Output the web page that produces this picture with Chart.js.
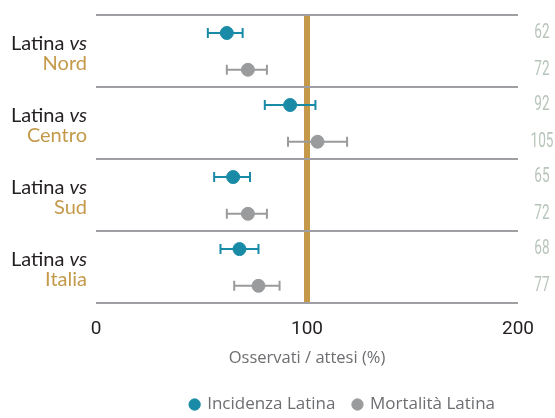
<!DOCTYPE html>
<html>
<head>
<meta charset="utf-8">
<script src="https://cdn.jsdelivr.net/npm/chart.js@4.4.0/dist/chart.umd.min.js"></script>
<style>
  html, body { margin: 0; padding: 0; background: #fff; }
  #wrap { width: 555px; height: 418px; }
</style>
</head>
<body>
<div id="wrap"><canvas id="forestChart" width="555" height="418"></canvas></div>
<script>
// dati
const groups = ['Nord', 'Centro', 'Sud', 'Italia'];
const incidenza = [62, 92, 65, 68];
const incLow = [53, 80, 56, 59];
const incHigh = [69.5, 104, 73, 77];
const mortalita = [72, 105, 72, 77];
const morLow = [62, 91, 62, 65.5];
const morHigh = [81, 119, 81, 87];
const xTicks = [0, 100, 200];

const TEAL = '#1a8ba6';
const GREY = '#9a9b9c';
const GOLD = '#c4994a';
const DIGITS = 'Roboto, sans-serif';
const SANS = 'Lato, "Open Sans", sans-serif';
const OPEN = '"Open Sans", sans-serif';

// posizione verticale delle righe dentro ogni gruppo
const rowInc = 0.25, rowMor = 0.76;

// barre di errore
const errorBars = {
    id: 'errorBars',
    beforeDatasetsDraw(chart) {
        const ctx = chart.ctx;
        const xs = chart.scales.x, ys = chart.scales.y;
        const sets = [[incLow, incHigh, rowInc, TEAL], [morLow, morHigh, rowMor, GREY]];
        ctx.save();
        ctx.lineWidth = 2;
        sets.forEach(([lo, hi, row, col]) => {
            ctx.strokeStyle = col;
            groups.forEach((g, i) => {
                const y = ys.getPixelForValue(i + row);
                const x1 = xs.getPixelForValue(lo[i]);
                const x2 = xs.getPixelForValue(hi[i]);
                ctx.beginPath();
                ctx.moveTo(x1, y); ctx.lineTo(x2, y);
                ctx.moveTo(x1, y - 5); ctx.lineTo(x1, y + 5);
                ctx.moveTo(x2, y - 5); ctx.lineTo(x2, y + 5);
                ctx.stroke();
            });
        });
        ctx.restore();
    }
};

// etichette a sinistra e valori a destra
const sideLabels = {
    id: 'sideLabels',
    afterLayout(chart) {
        // legenda leggermente spostata
        chart.legend.left -= 5;
        chart.legend.right -= 5;
    },
    afterDraw(chart) {
        const ctx = chart.ctx;
        const ys = chart.scales.y;
        const area = chart.chartArea;
        ctx.save();
        ctx.textBaseline = 'middle';
        groups.forEach((g, i) => {
            const y1 = ys.getPixelForValue(i + 0.39);
            const y2 = ys.getPixelForValue(i + 0.67);
            const right = area.left - 9;
            ctx.textAlign = 'left';
            ctx.font = 'italic 20px ' + SANS;
            const wVs = ctx.measureText('vs').width;
            ctx.fillStyle = '#231f20';
            ctx.fillText('vs', right - wVs, y1);
            ctx.font = '20px ' + SANS;
            const wLat = ctx.measureText('Latina ').width;
            ctx.fillText('Latina ', right - wVs - wLat, y1);
            ctx.textAlign = 'right';
            ctx.fillStyle = GOLD;
            ctx.fillText(g, right, y2);

            // valori a destra, testo stretto
            ctx.fillStyle = '#b7c5ba';
            ctx.font = '20px ' + DIGITS;
            ctx.textAlign = 'center';
            [[incidenza[i], rowInc], [mortalita[i], rowMor]].forEach(([v, row]) => {
                ctx.save();
                ctx.translate(area.right + 24, ys.getPixelForValue(i + row));
                ctx.scale(0.68, 1);
                ctx.fillText(String(v), 0, 0);
                ctx.restore();
            });
        });
        ctx.restore();
    }
};

document.addEventListener('DOMContentLoaded', () => {
    const ctx = document.getElementById('forestChart').getContext('2d');
    new Chart(ctx, {
        type: 'scatter',
        data: {
            datasets: [{
                label: 'Incidenza Latina',
                data: incidenza.map((v, i) => ({ x: v, y: i + rowInc })),
                backgroundColor: TEAL,
                borderColor: TEAL,
                pointRadius: 6.5,
                pointHoverRadius: 6.5
            }, {
                label: 'Mortalità Latina',
                data: mortalita.map((v, i) => ({ x: v, y: i + rowMor })),
                backgroundColor: GREY,
                borderColor: GREY,
                pointRadius: 6.5,
                pointHoverRadius: 6.5
            }]
        },
        options: {
            responsive: false,
            animation: false,
            layout: {
                padding: { left: 96, right: 37, top: 15, bottom: -5 }
            },
            plugins: {
                legend: {
                    position: 'bottom',
                    align: 'end',
                    labels: {
                        usePointStyle: true,
                        pointStyle: 'circle',
                        boxWidth: 8,
                        boxHeight: 8,
                        padding: 18,
                        color: '#6d6e71',
                        font: { family: OPEN, size: 17 }
                    }
                },
                tooltip: { enabled: false }
            },
            scales: {
                x: {
                    type: 'linear',
                    min: 0,
                    max: 200,
                    afterBuildTicks: (scale) => {
                        scale.ticks = xTicks.map(v => ({ value: v }));
                    },
                    border: { display: false },
                    grid: {
                        drawTicks: false,
                        color: (c) => c.tick && c.tick.value === 100 ? GOLD : 'rgba(0,0,0,0)',
                        lineWidth: (c) => c.tick && c.tick.value === 100 ? 6 : 0
                    },
                    ticks: {
                        padding: 20,
                        color: '#231f20',
                        font: { family: DIGITS, size: 19, lineHeight: 0.63 }
                    },
                    title: {
                        display: true,
                        text: 'Osservati / attesi (%)',
                        color: '#6d6e71',
                        font: { family: OPEN, size: 16.5, lineHeight: 0.36 },
                        padding: { top: 0, bottom: 17 }
                    }
                },
                y: {
                    type: 'linear',
                    min: 0,
                    max: 4,
                    reverse: true,
                    border: { display: false },
                    grid: {
                        drawTicks: false,
                        color: '#9d9fa2',
                        lineWidth: 2
                    },
                    ticks: { display: false, stepSize: 1 }
                }
            }
        },
        plugins: [errorBars, sideLabels]
    });
});
</script>
</body>
</html>
